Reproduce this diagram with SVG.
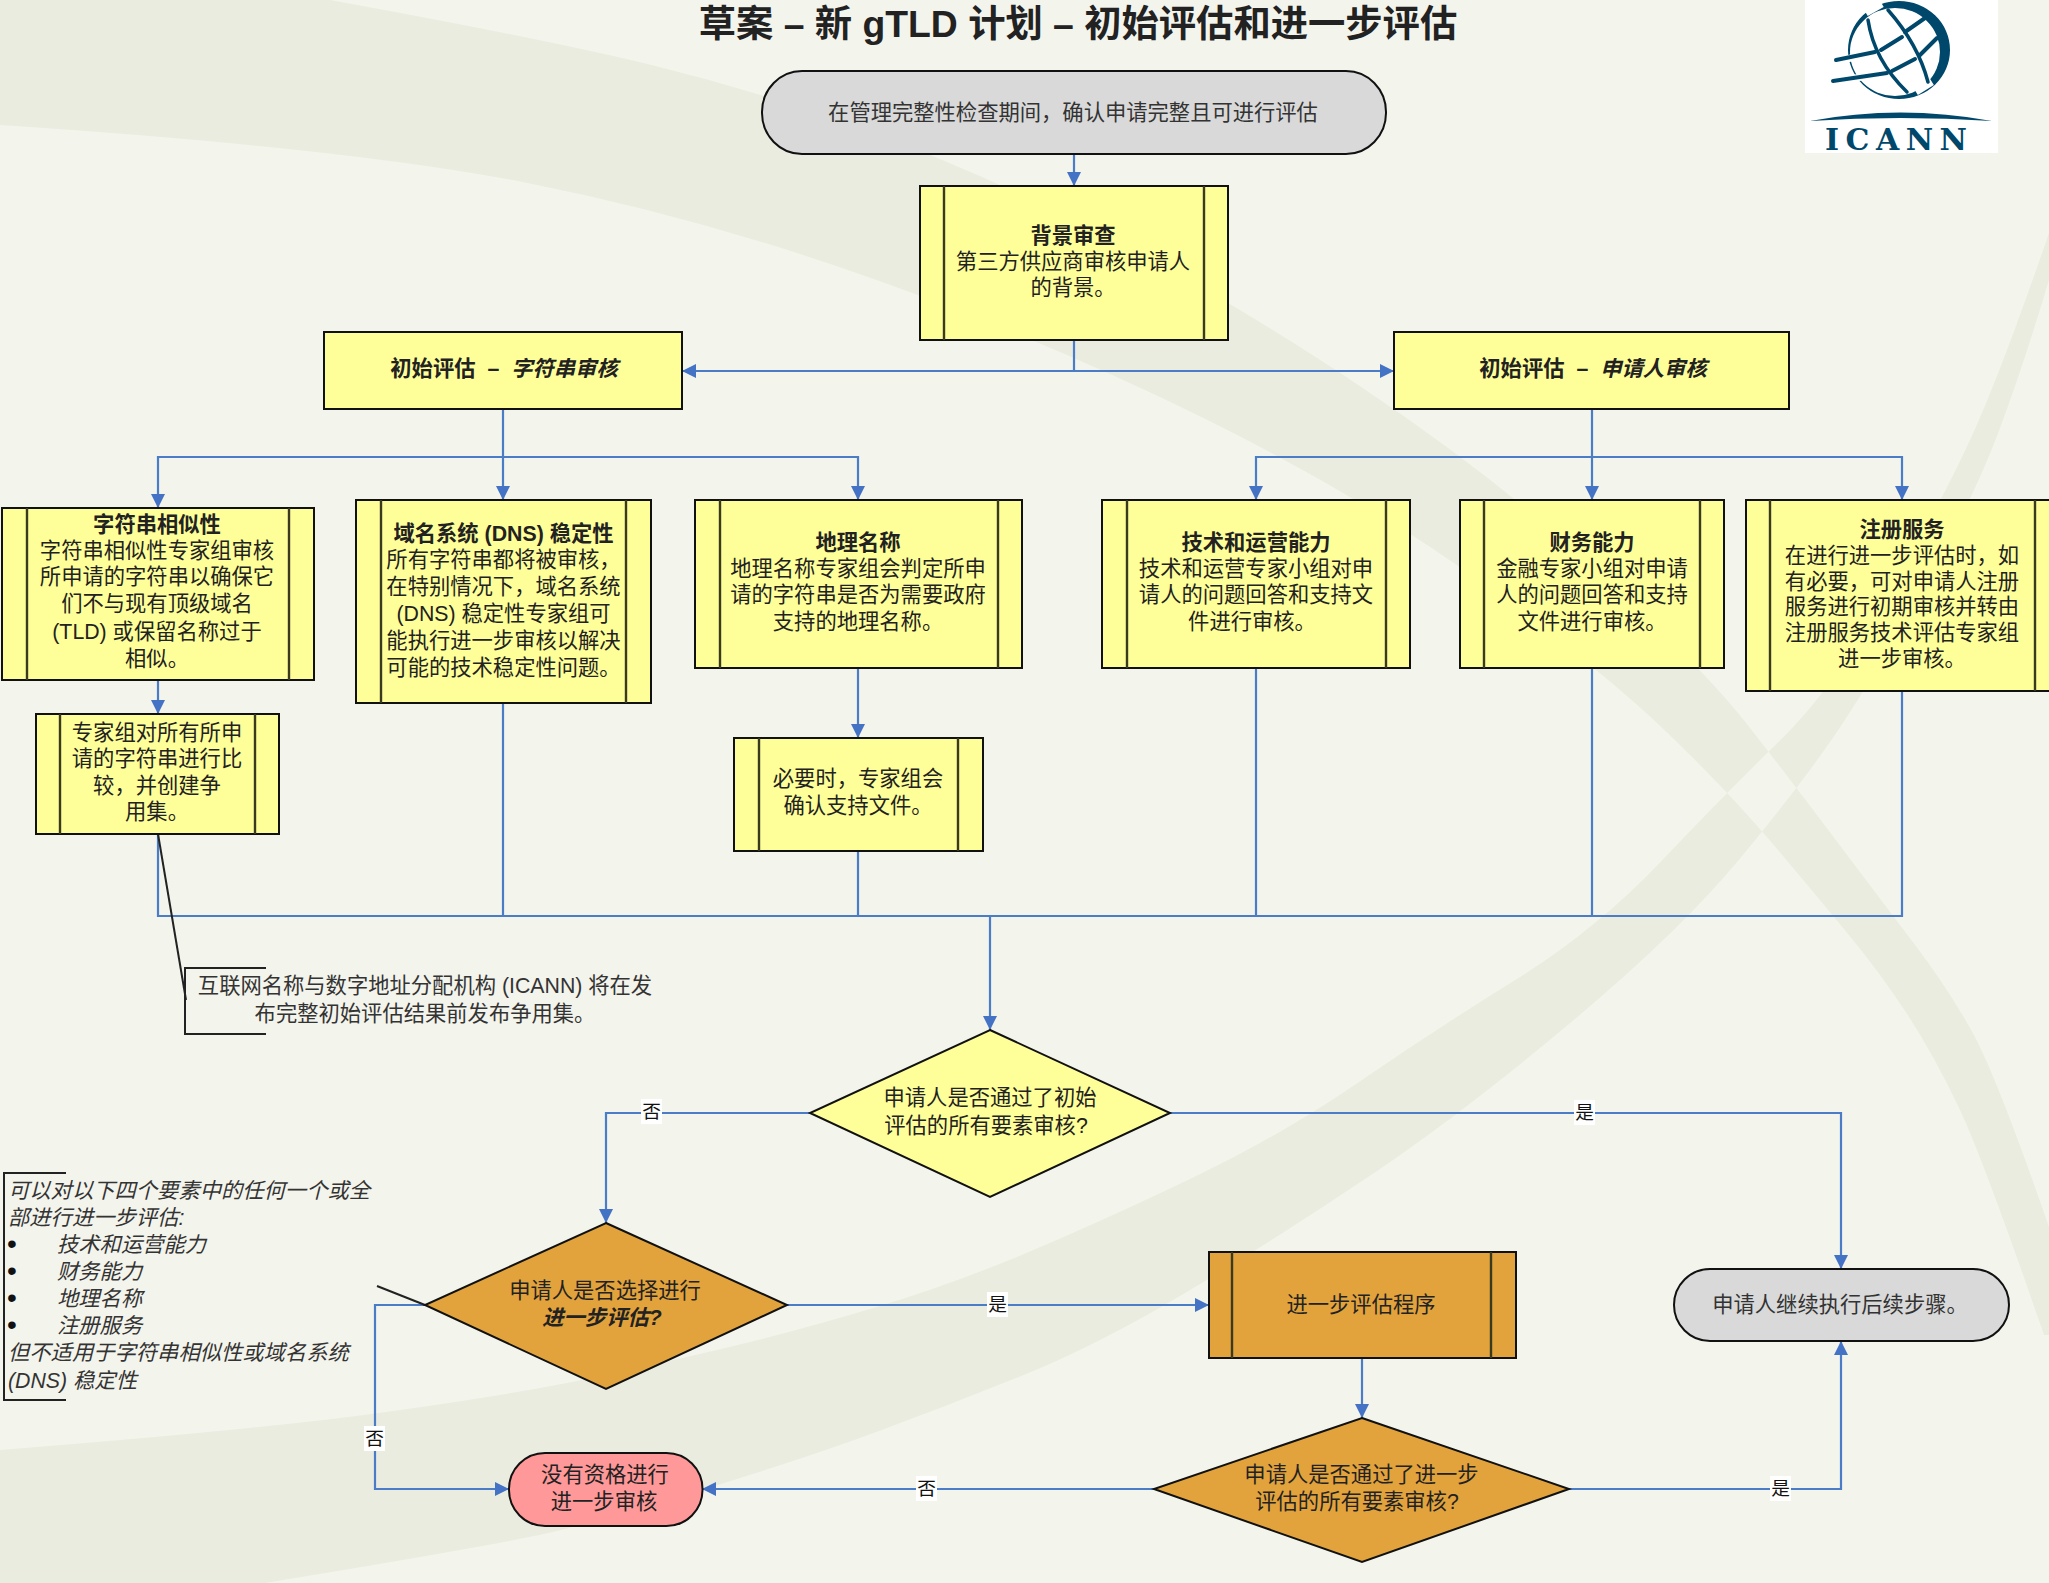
<svg xmlns="http://www.w3.org/2000/svg" width="2049" height="1583" viewBox="0 0 2049 1583">
<style>
text{font-family:"Liberation Sans","Noto Sans CJK SC",sans-serif;font-size:21.3px;fill:#222;text-anchor:middle}
.b{font-weight:700}
.i{font-style:italic}
.g{fill:#333}
.l{text-anchor:start;font-style:italic;fill:#333}
.bu{text-anchor:start;font-size:28px;fill:#111}
.sh{stroke:#111;stroke-width:2}
.y{fill:#FFFF99}
.o{fill:#E2A33C}
.in{fill:none;stroke:#3a3a20;stroke-width:2.4}
.c{fill:none;stroke:#4A7CC8;stroke-width:2.2}
.tag{fill:#fff}
.lab{font-size:18.7px;fill:#111}
.k{fill:none;stroke:#222;stroke-width:2}
.lg{fill:none;stroke:#00486B;stroke-linecap:round}
</style>
<defs>
<marker id="a" markerUnits="userSpaceOnUse" markerWidth="16" markerHeight="16" refX="15" refY="8" orient="auto"><path d="M1,1 L15,8 L1,15 Z" fill="#4472C4"/></marker>
</defs>
<rect width="2049" height="1583" fill="#F3F4EC"/>
<path fill="#EAECE0" fill-rule="evenodd" d="M0,0 L330,0 Q550,40 657.500,66.500 Q765,93 873.500,133 Q982,173 1104.500,235 Q1227,297 1363.500,388.500 Q1500,480 1602.500,575 Q1705,670 1750.500,728.500 Q1796,787 1838.500,843.500 Q1881,900 1914,943.500 Q1947,987 1971.500,1030.500 Q1996,1074 2049,1227 L2049,1335 L2044,1335 Q1984,1161 1959.500,1109 Q1935,1057 1908,1015.500 Q1881,974 1850.500,937 Q1820,900 1775,846.500 Q1730,793 1666,731.500 Q1602,670 1485,585 Q1368,500 1210.500,421.500 Q1053,343 876.500,280 Q700,217 525,182.500 Q350,148 0,125 Z M265,1583 Q510,1543 561,1530 Q612,1517 706,1488.500 Q800,1460 875,1432.500 Q950,1405 1025,1374.500 Q1100,1344 1191,1289.500 Q1282,1235 1372.500,1174 Q1463,1113 1572,1021.500 Q1681,930 1740,858.500 Q1799,787 1832.500,738.500 Q1866,690 1919.500,595 Q1973,500 1998,433.500 Q2023,367 2049,280 L2049,233 Q2003,367 1973,433.500 Q1943,500 1887.500,595 Q1832,690 1779,741.500 Q1726,793 1661,861.500 Q1596,930 1514.500,980.500 Q1433,1031 1357.500,1083 Q1282,1135 1191,1178.500 Q1100,1222 1025,1253.500 Q950,1285 875,1307.500 Q800,1330 731.500,1346.500 Q663,1363 586.500,1379 Q510,1395 382.500,1412.500 Q255,1430 0,1450 L0,1583 Z"/>

<text id="title" x="1078" y="37" class="b" style="font-size:37.300px">草案 – 新 gTLD 计划 – 初始评估和进一步评估</text>

<g id="logo">
<rect x="1805" y="0" width="193" height="153" fill="#fff"/>
<path fill="#00486B" fill-rule="evenodd" d="M1848,50 A51,49 0 1 1 1950,50 A51,49 0 1 1 1848,50 Z M1850,52 A45,44 0 1 0 1940,52 A45,44 0 1 0 1850,52 Z"/>
<path fill="none" stroke="#fff" stroke-width="7" d="M1842,60 L1860,56 M1842,80 L1862,77 M1866,13 L1882,4 M1916,92 L1932,82"/>
<path class="lg" stroke-width="3.500" d="M1868,20 Q1874,60 1907,92 M1888,10 Q1918,44 1928,82"/>
<path class="lg" stroke-width="4" d="M1836,60 L1875,52 M1881,50 L1902,37 M1905,32 L1925,18 M1833,81 L1887,73 M1892,71 L1915,59 M1920,55 L1937,38"/>
<path fill="#00486B" d="M1810,121 Q1900,104 1992,121 Q1900,115 1810,121 Z"/>
<text x="1896" y="150" textLength="142" lengthAdjust="spacing" style="font-family:'DejaVu Serif',serif;font-weight:700;font-size:30px;fill:#00486B">ICANN</text>
</g>

<g id="connectors">
<path class="c" marker-end="url(#a)" d="M1074,154 V186"/>
<path class="c" d="M1074,340 V371"/>
<path class="c" marker-end="url(#a)" d="M1074,371 H682"/>
<path class="c" marker-end="url(#a)" d="M1074,371 H1394"/>
<path class="c" marker-end="url(#a)" d="M503,409 V500"/>
<path class="c" marker-end="url(#a)" d="M503,457 H158 V508"/>
<path class="c" marker-end="url(#a)" d="M503,457 H858 V500"/>
<path class="c" marker-end="url(#a)" d="M1592,409 V500"/>
<path class="c" marker-end="url(#a)" d="M1592,457 H1256 V500"/>
<path class="c" marker-end="url(#a)" d="M1592,457 H1902 V500"/>
<path class="c" marker-end="url(#a)" d="M158,680 V714"/>
<path class="c" marker-end="url(#a)" d="M858,668 V738"/>
<path class="c" d="M158,834 V916 H1902 V691 M503,703 V916 M858,851 V916 M1256,668 V916 M1592,668 V916"/>
<path class="c" marker-end="url(#a)" d="M990,916 V1030"/>
<path class="c" marker-end="url(#a)" d="M810,1113 H606 V1223"/>
<path class="c" marker-end="url(#a)" d="M1170,1113 H1841 V1269"/>
<path class="c" marker-end="url(#a)" d="M787,1305 H1209"/>
<path class="c" marker-end="url(#a)" d="M425,1305 H375 V1489 H509"/>
<path class="c" marker-end="url(#a)" d="M1362,1358 V1418"/>
<path class="c" marker-end="url(#a)" d="M1154,1489 H702"/>
<path class="c" marker-end="url(#a)" d="M1569,1489 H1841 V1341"/>
<path class="k" d="M158,834 L186,1000"/>
<path class="k" d="M377,1286 L425,1305"/>
<rect class="tag" x="641" y="1099" width="21" height="25"/><text class="lab" x="651.500" y="1118">否</text>
<rect class="tag" x="1574" y="1100" width="21" height="25"/><text class="lab" x="1584.500" y="1119">是</text>
<rect class="tag" x="987" y="1292" width="21" height="25"/><text class="lab" x="997.500" y="1311">是</text>
<rect class="tag" x="916" y="1476" width="21" height="25"/><text class="lab" x="926.500" y="1495">否</text>
<rect class="tag" x="1770" y="1476" width="21" height="25"/><text class="lab" x="1780.500" y="1495">是</text>
<rect class="tag" x="364" y="1426" width="21" height="25"/><text class="lab" x="374.500" y="1445">否</text>
</g>

<g id="n-start"><rect x="762" y="71" width="624" height="83" rx="40" ry="41" fill="#D9D9D9" class="sh"/><text x="1073" y="119.500" class="g">在管理完整性检查期间，确认申请完整且可进行评估</text></g>

<g id="n-background"><rect x="920" y="186" width="308" height="154" class="y sh"/><path class="in" d="M944,186 V340 M1204,186 V340"/>
<text x="1073" y="243" class="b">背景审查</text><text x="1073" y="269">第三方供应商审核申请人</text><text x="1073" y="295">的背景。</text></g>

<g id="n-init-string"><rect x="324" y="332" width="358" height="77" class="y sh"/><text x="504" y="376" class="b">初始评估<tspan dx="6"> – </tspan><tspan class="i" dx="6">字符串审核</tspan></text></g>
<g id="n-init-applicant"><rect x="1394" y="332" width="395" height="77" class="y sh"/><text x="1593" y="376" class="b">初始评估<tspan dx="6"> – </tspan><tspan class="i" dx="6">申请人审核</tspan></text></g>

<g id="n-similarity"><rect x="2" y="508" width="312" height="172" class="y sh"/><path class="in" d="M27,508 V680 M289,508 V680"/>
<text x="157" y="532" class="b">字符串相似性</text><text x="157" y="558">字符串相似性专家组审核</text><text x="157" y="584">所申请的字符串以确保它</text><text x="157" y="611">们不与现有顶级域名</text><text x="157" y="639">(TLD) 或保留名称过于</text><text x="157" y="666">相似。</text></g>

<g id="n-compare"><rect x="36" y="714" width="243" height="120" class="y sh"/><path class="in" d="M60,714 V834 M255,714 V834"/>
<text x="157" y="740">专家组对所有所申</text><text x="157" y="766">请的字符串进行比</text><text x="157" y="793">较，并创建争</text><text x="157" y="819">用集。</text></g>

<g id="n-dns"><rect x="356" y="500" width="295" height="203" class="y sh"/><path class="in" d="M381,500 V703 M626,500 V703"/>
<text x="503.500" y="541" class="b">域名系统 (DNS) 稳定性</text><text x="503.500" y="567">所有字符串都将被审核，</text><text x="503.500" y="594">在特别情况下，域名系统</text><text x="503.500" y="621">(DNS) 稳定性专家组可</text><text x="503.500" y="648">能执行进一步审核以解决</text><text x="503.500" y="675">可能的技术稳定性问题。</text></g>

<g id="n-geo"><rect x="695" y="500" width="327" height="168" class="y sh"/><path class="in" d="M720,500 V668 M998,500 V668"/>
<text x="858" y="550" class="b">地理名称</text><text x="858" y="576">地理名称专家组会判定所申</text><text x="858" y="602">请的字符串是否为需要政府</text><text x="858" y="629">支持的地理名称。</text></g>

<g id="n-geo-sub"><rect x="734" y="738" width="249" height="113" class="y sh"/><path class="in" d="M759,738 V851 M958,738 V851"/>
<text x="858" y="786">必要时，专家组会</text><text x="858" y="813">确认支持文件。</text></g>

<g id="n-tech"><rect x="1102" y="500" width="308" height="168" class="y sh"/><path class="in" d="M1127,500 V668 M1386,500 V668"/>
<text x="1256" y="550" class="b">技术和运营能力</text><text x="1256" y="576">技术和运营专家小组对申</text><text x="1256" y="602">请人的问题回答和支持文</text><text x="1252" y="629">件进行审核。</text></g>

<g id="n-fin"><rect x="1460" y="500" width="264" height="168" class="y sh"/><path class="in" d="M1484,500 V668 M1700,500 V668"/>
<text x="1592" y="550" class="b">财务能力</text><text x="1592" y="576">金融专家小组对申请</text><text x="1592" y="602">人的问题回答和支持</text><text x="1592" y="629">文件进行审核。</text></g>

<g id="n-reg"><rect x="1746" y="500" width="310" height="191" class="y sh"/><path class="in" d="M1770,500 V691 M2035,500 V691"/>
<text x="1902" y="537" class="b">注册服务</text><text x="1902" y="563">在进行进一步评估时，如</text><text x="1902" y="589">有必要，可对申请人注册</text><text x="1902" y="614">服务进行初期审核并转由</text><text x="1902" y="640">注册服务技术评估专家组</text><text x="1902" y="666">进一步审核。</text></g>

<g id="n-callout"><path class="k" d="M266,968 H185 V1034 H266"/><text x="425" y="993" class="g">互联网名称与数字地址分配机构 (ICANN) 将在发</text><text x="425" y="1021" class="g">布完整初始评估结果前发布争用集。</text></g>

<g id="n-d1"><polygon points="990,1030 1170,1113 990,1197 810,1113" class="y sh"/><text x="990" y="1105">申请人是否通过了初始</text><text x="986" y="1133">评估的所有要素审核?</text></g>

<g id="n-d2"><polygon points="606,1223 787,1305 606,1389 425,1305" class="o sh"/><text x="605" y="1298">申请人是否选择进行</text><text x="602" y="1325" class="b i">进一步评估?</text></g>

<g id="n-further"><rect x="1209" y="1252" width="307" height="106" class="o sh"/><path class="in" d="M1232,1252 V1358 M1491,1252 V1358"/><text x="1361" y="1312">进一步评估程序</text></g>

<g id="n-continue"><rect x="1674" y="1269" width="335" height="72" rx="36" ry="36" fill="#D9D9D9" class="sh"/><text x="1840" y="1312" class="g">申请人继续执行后续步骤。</text></g>

<g id="n-d3"><polygon points="1362,1418 1569,1489 1362,1562 1154,1489" class="o sh"/><text x="1361.500" y="1482">申请人是否通过了进一步</text><text x="1357" y="1509">评估的所有要素审核?</text></g>

<g id="n-fail"><rect x="509" y="1453" width="193.500" height="73" rx="36" ry="36" fill="#FF9999" class="sh"/><text x="605" y="1482">没有资格进行</text><text x="604" y="1509">进一步审核</text></g>

<g id="n-note"><path class="k" stroke="#333" d="M66,1173 H4 V1400 H66"/>
<text class="l" x="8" y="1198">可以对以下四个要素中的任何一个或全</text>
<text class="l" x="8" y="1225">部进行进一步评估:</text>
<text class="bu" x="7" y="1253">•</text><text class="l" x="57" y="1252">技术和运营能力</text>
<text class="bu" x="7" y="1280">•</text><text class="l" x="57" y="1279">财务能力</text>
<text class="bu" x="7" y="1307">•</text><text class="l" x="57" y="1306">地理名称</text>
<text class="bu" x="7" y="1334">•</text><text class="l" x="57" y="1333">注册服务</text>
<text class="l" x="8" y="1360">但不适用于字符串相似性或域名系统</text>
<text class="l" x="8" y="1388">(DNS) 稳定性</text></g>
</svg>
